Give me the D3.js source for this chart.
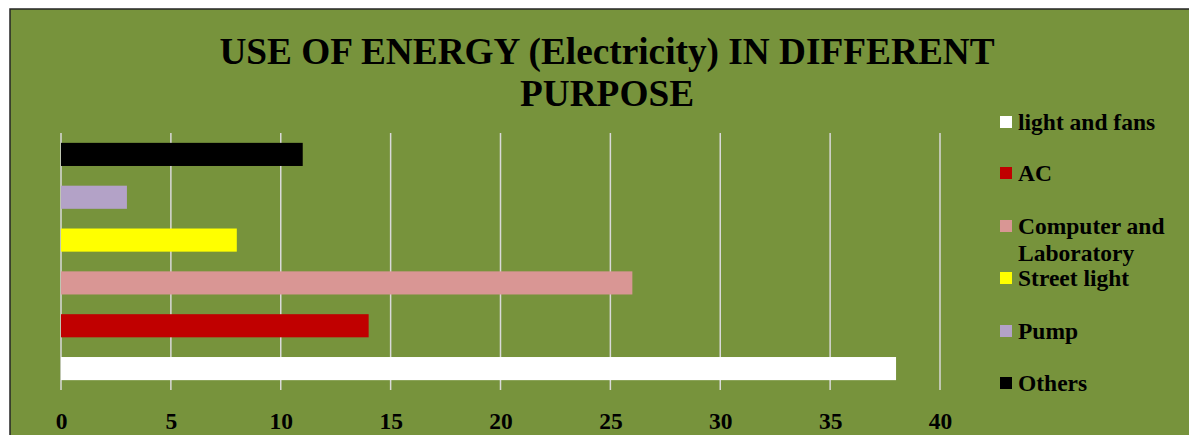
<!DOCTYPE html>
<html>
<head>
  <title>Energy use</title>
  <script type="text/javascript" src="https://d3js.org/d3.v7.min.js"></script>
  <style>
    body { margin: 0; background: #fff; }
    text { font-family: "Liberation Serif", "Times New Roman", serif; font-weight: bold; }
  </style>
</head>
<body>
  <div id="container"></div>
  <script type="text/javascript">
    // bottom to top, same order as the legend
    var categories = ['light and fans', 'AC', 'Computer and Laboratory', 'Street light', 'Pump', 'Others'];
    var values = [38, 14, 26, 8, 3, 11];
    var colours = ['#ffffff', '#c00000', '#d99694', '#ffff00', '#b3a2c7', '#000000'];
    var xTicks = [0, 5, 10, 15, 20, 25, 30, 35, 40];
    var titleLines = ['USE OF ENERGY (Electricity) IN DIFFERENT', 'PURPOSE'];

    var W = 1189, H = 435;
    var plot = {left: 61, right: 940, top: 133, bottom: 390};

    var svg = d3.select('#container').append('svg')
      .attr('width', W).attr('height', H);

    // chart background, runs off the right and bottom edges
    svg.append('rect')
      .attr('x', 10).attr('y', 9)
      .attr('width', W).attr('height', H)
      .attr('fill', '#77933c')
      .attr('stroke', '#262626').attr('stroke-width', 1.5);

    svg.append('text')
      .attr('x', 607).attr('y', 64)
      .attr('text-anchor', 'middle')
      .attr('font-size', 37.3)
      .selectAll('tspan').data(titleLines).enter()
      .append('tspan')
      .attr('x', 607)
      .attr('dy', (d, i) => i ? 42 : 0)
      .text(d => d);

    var x = d3.scaleLinear().domain([0, 40]).range([plot.left, plot.right]);
    var y = d3.scaleBand().domain(categories.slice().reverse())
      .range([plot.top, plot.bottom]).paddingInner(0.46).paddingOuter(0.23);

    // gridlines
    svg.append('g').selectAll('line').data(xTicks).enter()
      .append('line')
      .attr('x1', d => x(d)).attr('x2', d => x(d))
      .attr('y1', plot.top).attr('y2', plot.bottom)
      .attr('stroke', '#d9d9d9').attr('stroke-width', 1.5);

    svg.append('g').selectAll('rect').data(categories).enter()
      .append('rect')
      .attr('x', x(0))
      .attr('y', d => y(d))
      .attr('height', y.bandwidth())
      .attr('width', (d, i) => x(values[i]) - x(0))
      .attr('fill', (d, i) => colours[i]);

    var axis = svg.append('g')
      .attr('transform', `translate(0,${plot.bottom})`)
      .call(d3.axisBottom(x).tickValues(xTicks).tickSize(0).tickPadding(22));
    axis.select('.domain').remove();
    axis.selectAll('text')
      .attr('font-size', 23.5).attr('fill', '#000')
      .style('font-family', '"Liberation Serif", serif').style('font-weight', 'bold');

    // legend
    var legendY = [122, 173, 226, 278, 331, 383];
    var lg = svg.append('g').selectAll('g').data(categories).enter()
      .append('g')
      .attr('transform', (d, i) => `translate(1000,${legendY[i]})`);
    lg.append('rect')
      .attr('x', 0).attr('y', -6).attr('width', 12).attr('height', 12)
      .attr('fill', (d, i) => colours[i]);
    lg.append('text')
      .attr('font-size', 23.5)
      .attr('y', 8)
      .each(function (d) {
        var t = d3.select(this);
        var lines = d === 'Computer and Laboratory' ? ['Computer and', 'Laboratory'] : [d];
        lines.forEach(function (s, k) {
          t.append('tspan').attr('x', 18).attr('dy', k ? 27 : 0).text(s);
        });
      });
  </script>
</body>
</html>
